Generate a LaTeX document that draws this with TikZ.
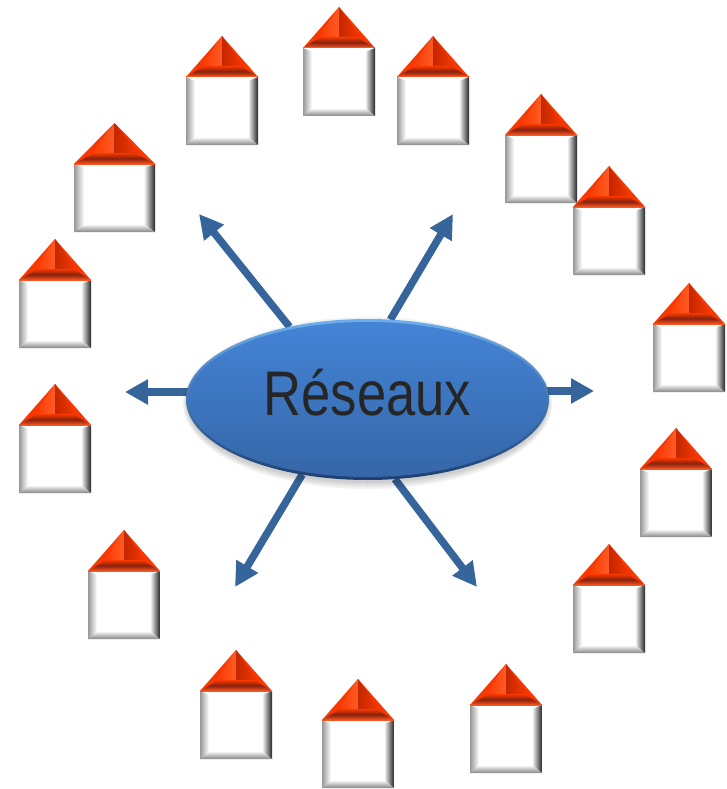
\documentclass[tikz,border=0pt]{standalone}
\usepackage{fontspec}
\usepackage{graphicx}
\setmainfont{Liberation Sans}
\usetikzlibrary{shapes.geometric,arrows.meta,backgrounds}
\definecolor{arrowblue}{HTML}{36659B}
\definecolor{roofred}{HTML}{F83800}
\definecolor{roofdark}{HTML}{86220E}
\definecolor{roofshade}{HTML}{C42800}
\definecolor{roofglow}{HTML}{FF5A24}
\definecolor{roofedge}{HTML}{FF5520}
\definecolor{sideleft}{HTML}{989898}
\definecolor{sideright}{HTML}{262626}
\definecolor{sidebottom}{HTML}{858585}
\definecolor{elltop}{HTML}{4484D6}
\definecolor{ellbottom}{HTML}{3566A8}
\definecolor{rimtop}{HTML}{6FAEEE}
\definecolor{rimbottom}{HTML}{1E3F70}
\definecolor{labelgrey}{HTML}{262626}
\tikzset{
  ray/.style={draw=arrowblue,line width=7.5pt,-{Triangle[length=24pt,width=24pt]}},
  ray small/.style={draw=arrowblue,line width=7.5pt,-{Triangle[length=23pt,width=24pt]}},
  rim/.style={ellipse,minimum width=363pt,minimum height=161pt,inner sep=0pt,outer sep=0pt,top color=rimtop,bottom color=rimbottom},
  core/.style={ellipse,minimum width=358pt,minimum height=155pt,inner sep=0pt,outer sep=0pt,top color=elltop,bottom color=ellbottom},
  softshadow/.style={fill=black,fill opacity=.05,draw=none},
  wordstyle/.style={text=labelgrey,inner sep=0pt,font=\fontsize{63}{63}\selectfont},
  pics/house/.style={code={
    % body
    \fill[white] (0,0) rectangle (72,-68);
    \shade[left color=sideleft,right color=white] (0,0) -- (9,-4) -- (9,-60) -- (0,-68) -- cycle;
    \shade[left color=white,right color=sideright] (72,0) -- (62,-4) -- (62,-60) -- (72,-68) -- cycle;
    \shade[top color=white,bottom color=sidebottom] (0,-68) -- (9,-60) -- (62,-60) -- (72,-68) -- cycle;
    % roof
    \fill[roofred] (0,0) -- (36,41) -- (72,0) -- cycle;
    \shade[left color=roofred,right color=roofglow] (36,41) -- (15,10) -- (36,10) -- cycle;
    \shade[left color=roofshade,right color=roofred] (36,41) -- (36,10) -- (58,10) -- cycle;
    \shade[top color=roofred,bottom color=roofedge,middle color=roofdark] (0,0) -- (18,11) -- (54,11) -- (72,0) -- cycle;
    \draw[roofedge,line width=1pt] (0,0) -- (72,0);
  }}
}
\newcommand{\putHouse}[3]{\pic[xscale=#3/72] at (#1,-#2) {house};}
\begin{document}
\begin{tikzpicture}[x=1pt,y=1pt]
\useasboundingbox (0,0) rectangle (727,-789);
\foreach \hx/\hy/\hw in {74/164/81,186/77/72,303/48/72,397/77/72,505/135/72,573/207/72,653/324/72,640/469/72,573/585/72,470/705/72,322/720/72,200/691/72,88/571/72,19/425/72,19/280/72}{
  \putHouse{\hx}{\hy}{\hw}
}
% soft shadow below the ellipse
\foreach \grow in {0,2,4,6}{
  \fill[softshadow] (367.5,-403) ellipse [x radius=181+\grow*0.6, y radius=80+\grow];
}
\node[rim] (oval) at (367.5,-399.5) {};
\node[core] (ovalface) at (367.5,-399.5) {};
\node[wordstyle] (word) at (367.5,-392.5) {\scalebox{.835}[1]{Réseaux}};
\coordinate (tipA) at (199,-214);
\coordinate (tipB) at (453,-214);
\coordinate (tipC) at (125,-392);
\coordinate (tipD) at (594,-391);
\coordinate (tipE) at (235,-587);
\coordinate (tipF) at (477,-587);
\coordinate (startC) at ([xshift=10pt]oval.west |- tipC);
\coordinate (startD) at ([xshift=-10pt]oval.east |- tipD);
\begin{scope}[on background layer]
\draw[ray] (oval.137) -- (tipA);
\draw[ray] (oval.74) -- (tipB);
\draw[ray small] (startC) -- (tipC);
\draw[ray small] (startD) -- (tipD);
\draw[ray] (oval.-131) -- (tipE);
\draw[ray] (oval.-71) -- (tipF);
\end{scope}
\end{tikzpicture}
\end{document}
